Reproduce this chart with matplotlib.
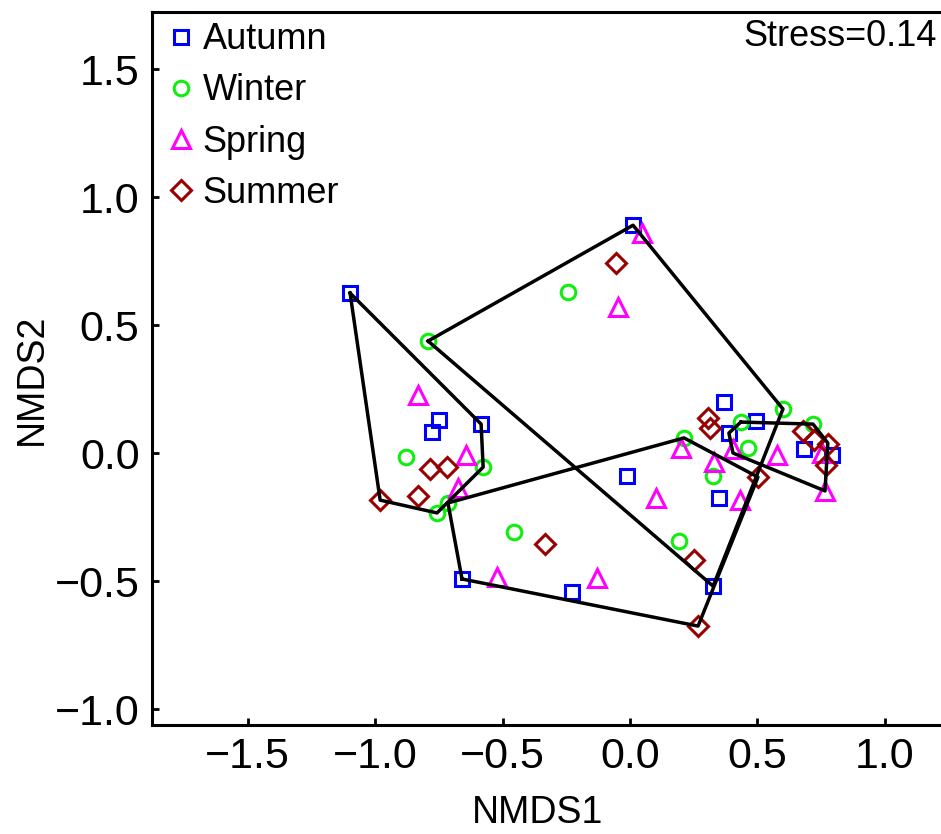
import matplotlib
matplotlib.use("Agg")
import matplotlib.pyplot as plt

plt.rcParams['font.family'] = ['Liberation Sans', 'DejaVu Sans']

# NMDS scores
autumn_x = [-1.098, 0.012, -0.749, -0.776, -0.584, -0.659, -0.227, 0.326, -0.012, 0.349, 0.369, 0.388, 0.494, 0.682, 0.792]
autumn_y = [0.625, 0.890, 0.129, 0.082, 0.113, -0.492, -0.543, -0.520, -0.090, -0.176, 0.200, 0.078, 0.125, 0.016, -0.008]

winter_x = [-0.792, -0.243, -0.878, -0.576, -0.757, -0.714, -0.455, 0.192, 0.212, 0.325, 0.435, 0.463, 0.600, 0.718]
winter_y = [0.4375, 0.629, -0.016, -0.055, -0.234, -0.195, -0.309, -0.344, 0.059, -0.090, 0.121, 0.020, 0.172, 0.113]

spring_x = [0.047, -0.047, -0.831, -0.643, -0.675, -0.522, -0.129, 0.102, 0.200, 0.329, 0.431, 0.404, 0.576, 0.765, 0.753]
spring_y = [0.859, 0.570, 0.227, -0.008, -0.137, -0.484, -0.488, -0.176, 0.020, -0.035, -0.184, 0.016, -0.008, -0.148, 0.000]

summer_x = [-0.055, -0.980, -0.831, -0.784, -0.718, -0.333, 0.251, 0.267, 0.306, 0.314, 0.502, 0.678, 0.722, 0.776, 0.769]
summer_y = [0.742, -0.184, -0.168, -0.063, -0.055, -0.355, -0.418, -0.676, 0.137, 0.098, -0.094, 0.086, 0.051, 0.035, -0.047]

# hull outlines (vertices)
hull_a_x = [-1.098, -0.584, -0.576, -0.757, -0.980]
hull_a_y = [0.625, 0.113, -0.055, -0.234, -0.184]
hull_b_x = [-0.792, 0.012, 0.600, 0.326]
hull_b_y = [0.4375, 0.890, 0.172, -0.520]
hull_c_x = [-0.659, -0.714, 0.212, 0.502, 0.267]
hull_c_y = [-0.492, -0.195, 0.059, -0.094, -0.676]
hull_d_x = [0.435, 0.718, 0.776, 0.765, 0.404, 0.388]
hull_d_y = [0.121, 0.113, 0.039, -0.148, 0.000, 0.078]

fig = plt.figure(figsize=(9.41, 8.34), dpi=100)
ax = fig.add_axes([152/941, 1 - 725/834, 1 - 152/941, (725 - 12)/834])

for hx, hy in [(hull_a_x, hull_a_y), (hull_b_x, hull_b_y), (hull_c_x, hull_c_y), (hull_d_x, hull_d_y)]:
    ax.plot(hx + hx[:1], hy + hy[:1], color='black', lw=2.5, zorder=3)

ax.plot(autumn_x, autumn_y, 's', ms=10.5, mfc='none', mec='#0000ff', mew=2.2, ls='none', label='Autumn', zorder=2)
ax.plot(winter_x, winter_y, 'o', ms=10.5, mfc='none', mec='#10ee10', mew=2.2, ls='none', label='Winter', zorder=2)
ax.plot(spring_x, spring_y, '^', ms=12.5, mfc='none', mec='#ff00ff', mew=2.2, ls='none', label='Spring', zorder=2)
ax.plot(summer_x, summer_y, 'D', ms=10.5, mfc='none', mec='#990000', mew=2.2, ls='none', label='Summer', zorder=2)

ax.set_xlim(-1.875, 1.22)
ax.set_ylim(-1.0625, 1.723)
ax.set_xticks([-1.5, -1.0, -0.5, 0.0, 0.5, 1.0])
ax.set_yticks([-1.0, -0.5, 0.0, 0.5, 1.0, 1.5])
ax.set_xticklabels(['\u22121.5', '\u22121.0', '\u22120.5', '0.0', '0.5', '1.0'])
ax.set_yticklabels(['\u22121.0', '\u22120.5', '0.0', '0.5', '1.0', '1.5'])
ax.tick_params(direction='in', length=5, width=2, labelsize=31, pad=9)
ax.spines['right'].set_visible(False)
for s in ['left', 'bottom', 'top']:
    ax.spines[s].set_linewidth(2.2)

ax.set_xlabel('NMDS1', fontsize=27)
ax.set_ylabel('NMDS2', fontsize=27)
ax.xaxis.set_label_coords((538 - 152)/789, -0.098)
ax.yaxis.set_label_coords((50 - 152)/789, 0.485)

ax.text(0.995, 0.965, 'Stress=0.14', transform=ax.transAxes, ha='right', va='center', fontsize=26)

ax.legend(loc='upper left', bbox_to_anchor=(0.0, 1.011), frameon=False, fontsize=26,
          handlelength=0.6, handletextpad=0.3, labelspacing=0.45, borderaxespad=0.3,
          borderpad=0.2, markerscale=1.0)

fig.savefig('out.png', dpi=100)
